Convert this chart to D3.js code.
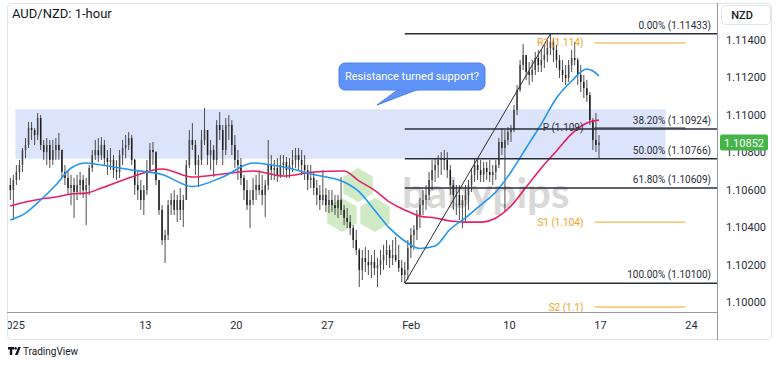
<!DOCTYPE html>
<html>
<head>
<meta charset="utf-8">
<script src="https://cdn.jsdelivr.net/npm/d3@7"></script>
<style>
  body { margin: 0; background: #fff; }
  svg text { font-family: Roboto, "Liberation Sans", sans-serif; }
</style>
</head>
<body>
<div id="chart"></div>
<script>
// AUD/NZD candles, 4-hour bars.
// values are points above 1.10000 (1 point = 0.00001)
const base = 1.1;
const firstBar = -2.5;      // trading days from Mon 6 Jan
const barsPerDay = 6;
const open0 = 625;
const high = [663,679,732,759,823,876,962,962,930,1010,999,866,876,866,866,876,903,815,732,705,
  679,663,679,695,679,663,732,812,866,876,882,866,812,823,785,759,812,866,892,908,
  892,765,705,652,625,759,850,855,805,652,518,385,545,582,598,572,609,572,759,919,
  956,866,785,919,1037,919,866,839,972,1015,946,983,999,972,892,812,769,679,652,598,
  663,679,705,679,652,866,785,759,769,785,785,775,769,812,823,823,812,785,732,732,
  695,652,625,705,609,598,598,572,572,668,518,502,465,411,385,288,278,294,278,251,
  278,235,278,305,331,305,331,347,305,224,214,331,395,411,492,556,598,625,695,759,
  769,785,801,812,801,732,652,625,625,572,625,652,716,769,769,759,748,748,759,732,
  759,876,930,919,935,946,1053,1159,1293,1379,1320,1282,1293,1336,1347,1347,1373,1400,1433,1411,
  1373,1320,1293,1266,1293,1347,1389,1304,1266,1213,1186,1122,983,1010,892];
const low = [545,438,625,652,695,769,823,866,839,866,812,759,732,716,732,759,759,663,625,572,
  518,449,545,572,556,411,572,695,759,748,759,732,679,705,663,652,663,732,769,812,
  732,572,545,492,465,572,705,732,625,465,305,208,331,465,465,427,438,401,545,716,
  812,679,614,732,839,732,705,668,732,866,732,785,866,785,716,652,625,545,492,395,
  518,545,572,518,454,598,652,652,641,663,679,663,663,695,716,705,679,652,598,609,
  572,518,492,518,481,475,481,465,449,465,411,395,358,288,251,80,117,160,144,128,
  144,80,144,171,197,182,197,214,160,107,101,117,235,278,331,395,465,492,545,598,
  641,663,679,705,663,572,492,465,438,395,427,492,588,641,652,641,641,652,641,625,
  652,716,785,481,839,855,908,999,1122,1240,1186,1159,1176,1213,1229,1229,1250,1282,1320,1282,
  1250,1197,1176,1159,1176,1229,1266,1159,1122,1090,1069,946,812,801,769];
const close = [598,652,695,732,812,839,930,919,892,983,839,801,839,759,812,839,812,695,663,609,
  625,588,625,652,598,625,716,785,812,785,839,769,748,759,705,695,785,823,839,876,
  759,625,598,545,598,705,812,801,652,492,331,358,518,545,492,545,492,545,732,866,
  839,732,759,866,919,785,812,759,946,919,812,946,946,839,759,732,663,598,518,545,
  598,625,598,572,625,732,705,716,679,732,748,705,732,759,785,759,732,705,652,663,
  609,572,545,572,518,545,518,502,545,492,449,427,395,331,278,171,235,214,197,214,
  182,197,224,251,278,235,251,224,182,144,171,288,358,385,465,518,545,572,652,705,
  732,759,769,759,705,625,572,572,518,545,572,625,679,732,705,679,716,695,679,695,
  732,855,823,866,908,919,1026,1133,1266,1320,1229,1213,1240,1304,1266,1293,1320,1357,1389,1347,
  1293,1240,1213,1197,1266,1304,1293,1213,1176,1143,1106,972,866,839,852];

// moving averages read at these bar numbers
const maBars = [0,5,10,15,20,25,30,40,50,60,70,80,90,100,110,115,120,125,130,135,140,145,150,155,160,165,170,175,180,185,190,192,194];
const emaBlue = [438,475,545,625,716,743,732,705,681,617,668,743,721,681,641,588,492,395,326,286,299,390,449,518,588,695,823,951,1090,1181,1245,1234,1208];
const emaPink = [513,534,550,561,577,582,609,668,711,668,684,700,673,695,700,646,598,534,492,459,449,433,427,427,449,513,614,716,807,898,956,967,972];

const timeLabels = ['2025','13','20','27','Feb','10','17','24'];
const timeAt = [-2.3, 5, 10, 15, 19.6, 25, 30, 35];
const priceTicks = [1.100,1.102,1.104,1.106,1.108,1.110,1.112,1.114];

const fibRatio = ['0.00%','38.20%','50.00%','61.80%','100.00%'];
const fibPrice = [1.11433,1.10924,1.10766,1.10609,1.10100];
const fibFrom = 130, fibTo = 178;   // swing low bar, swing high bar

const pivotName = ['R1','P','S1','S2'];
const pivotText = ['1.114','1.109','1.104','1.1'];
const pivotPrice = [1.11384,1.10930,1.10427,1.09973];
const pivotSpan = [29.67, 34.67];

const zoneSpan = [-2.14, 33.57];
const zonePrice = [1.11030, 1.10766];
const lastPrice = 1.10852;

function makeChart() {
  const W = 780, H = 365;
  const svg = d3.select('#chart').append('svg').attr('width', W).attr('height', H);

  const x = d3.scaleLinear().domain([-2.6, 36.4]).range([7, 717]);
  const y = d3.scaleLinear().domain([1.100, 1.114]).range([302, 40]);
  const px = v => base + v / 1e5;

  const bars = close.map((c, i) => ({
    t: firstBar + (i + 0.5) / barsPerDay,
    o: px(i ? close[i - 1] : open0),
    h: px(high[i]), l: px(low[i]), c: px(c)
  }));

  // frame + axes lines
  svg.append('rect').attr('x', 7.5).attr('y', 3.5).attr('width', 764).attr('height', 336)
    .attr('rx', 4).attr('fill', 'none').attr('stroke', '#e0e3eb');

  svg.append('defs').append('clipPath').attr('id', 'plot')
    .append('rect').attr('x', 8).attr('y', 4).attr('width', 709).attr('height', 308);
  svg.append('defs').append('clipPath').attr('id', 'timeclip')
    .append('rect').attr('x', 8).attr('y', 312).attr('width', 709).attr('height', 30);

  const plot = svg.append('g').attr('clip-path', 'url(#plot)');

  // support / resistance zone
  plot.append('rect')
    .attr('x', x(zoneSpan[0])).attr('width', x(zoneSpan[1]) - x(zoneSpan[0]))
    .attr('y', y(zonePrice[0])).attr('height', y(zonePrice[1]) - y(zonePrice[0]))
    .attr('fill', '#dce4fb');

  // babypips watermark
  const hex = d3.range(6).map(i => {
    const a = Math.PI / 3 * i - Math.PI / 2;
    return [17 * Math.cos(a), 17 * Math.sin(a)];
  });
  const wm = plot.append('g').attr('opacity', 0.8);
  [[358, 185], [342, 215], [375, 215]].forEach(c => {
    wm.append('polygon')
      .attr('points', hex.map(p => [c[0] + p[0], c[1] + p[1]].join(',')).join(' '))
      .attr('fill', '#c5e6b8');
  });
  wm.append('text').attr('x', 402).attr('y', 208)
    .style('font-family', 'Lato, "Noto Sans", sans-serif')
    .style('font-weight', 700).style('font-size', '42px')
    .attr('fill', '#cfcfcf').text('babypips');

  // candles
  const cw = 18.2 / barsPerDay;
  const cg = plot.append('g');
  cg.selectAll('line').data(bars).enter().append('line')
    .attr('x1', d => x(d.t)).attr('x2', d => x(d.t))
    .attr('y1', d => y(d.h)).attr('y2', d => y(d.l))
    .attr('stroke', '#3a3a3a').attr('stroke-width', 0.9);
  cg.selectAll('rect').data(bars).enter().append('rect')
    .attr('x', d => x(d.t) - cw * 0.25).attr('width', cw * 0.5)
    .attr('y', d => y(Math.max(d.o, d.c)))
    .attr('height', d => Math.max(1, Math.abs(y(d.o) - y(d.c))))
    .attr('fill', d => d.c >= d.o ? '#444' : '#1e1e1e');

  // moving averages
  const maLine = vals => d3.line()
    .x((d, i) => x(firstBar + (maBars[i] + 0.5) / barsPerDay))
    .y(d => y(px(d)))
    .curve(d3.curveMonotoneX)(vals);
  plot.append('path').attr('d', maLine(emaPink)).attr('fill', 'none')
    .attr('stroke', '#e91e63').attr('stroke-width', 1.6);
  plot.append('path').attr('d', maLine(emaBlue)).attr('fill', 'none')
    .attr('stroke', '#2196f3').attr('stroke-width', 1.6);

  // fibonacci retracement
  const fx0 = x(bars[fibFrom].t), fx1 = x(bars[fibTo].t);
  plot.append('line').attr('x1', fx0).attr('y1', y(bars[fibFrom].l))
    .attr('x2', fx1).attr('y2', y(bars[fibTo].h))
    .attr('stroke', '#2a2e39').attr('stroke-width', 1);
  fibPrice.forEach((p, i) => {
    plot.append('line').attr('x1', fx0).attr('x2', 717)
      .attr('y1', y(p)).attr('y2', y(p))
      .attr('stroke', '#2a2e39').attr('stroke-width', 1.5);
    plot.append('text').attr('x', 711).attr('y', y(p) - 5)
      .attr('text-anchor', 'end').style('font-size', '10px').attr('fill', '#2a2e39')
      .text(`${fibRatio[i]} (${p.toFixed(5)})`);
  });

  // weekly pivots
  pivotPrice.forEach((p, i) => {
    const col = pivotName[i] === 'P' ? '#2a2e39' : '#f5a025';
    plot.append('line').attr('x1', x(pivotSpan[0])).attr('x2', x(pivotSpan[1]))
      .attr('y1', y(p)).attr('y2', y(p)).attr('stroke', col).attr('stroke-width', 1);
    plot.append('text').attr('x', x(pivotSpan[0]) - 11).attr('y', y(p) + 3.5)
      .attr('text-anchor', 'end').style('font-size', '10px').attr('fill', col)
      .text(`${pivotName[i]} (${pivotText[i]})`);
  });

  // callout
  const note = svg.append('g');
  note.append('path')
    .attr('d', 'M399,89 L377,105 L419,89 Z')
    .attr('fill', '#6093f7').attr('stroke', '#4a7ef0');
  note.append('rect').attr('x', 339).attr('y', 63).attr('width', 146).attr('height', 27)
    .attr('rx', 6).attr('fill', '#6093f7').attr('stroke', '#4a7ef0');
  note.append('path').attr('d', 'M400,89.5 L418,89.5').attr('stroke', '#6093f7').attr('stroke-width', 2);
  note.append('text').attr('x', 412).attr('y', 80).attr('text-anchor', 'middle')
    .style('font-size', '11px').attr('fill', '#fff').text('Resistance turned support?');

  // axes
  svg.append('line').attr('x1', 7).attr('x2', 717).attr('y1', 312.5).attr('y2', 312.5)
    .attr('stroke', '#9598a1');
  svg.append('line').attr('x1', 717.5).attr('x2', 717.5).attr('y1', 3).attr('y2', 340)
    .attr('stroke', '#9598a1');

  svg.append('g').attr('clip-path', 'url(#timeclip)')
    .selectAll('text').data(timeLabels).enter().append('text')
    .attr('x', (d, i) => x(timeAt[i])).attr('y', 329)
    .attr('text-anchor', 'middle').style('font-size', '11px').attr('fill', '#2a2e39')
    .text(d => d);

  svg.selectAll('.ptick').data(priceTicks).enter().append('text')
    .attr('class', 'ptick').attr('x', 726).attr('y', d => y(d) + 4)
    .style('font-size', '11px').attr('fill', '#2a2e39')
    .text(d => d.toFixed(5));

  // last price label
  svg.append('rect').attr('x', 720).attr('y', y(lastPrice) - 8).attr('width', 48).attr('height', 16)
    .attr('rx', 2).attr('fill', '#46b549');
  svg.append('text').attr('x', 744).attr('y', y(lastPrice) + 4).attr('text-anchor', 'middle')
    .style('font-size', '11px').attr('fill', '#fff').text(lastPrice.toFixed(5));

  // currency box
  svg.append('rect').attr('x', 721.5).attr('y', 5.5).attr('width', 49).attr('height', 19)
    .attr('rx', 4).attr('fill', '#fff').attr('stroke', '#e0e3eb');
  svg.append('text').attr('x', 742).attr('y', 19).attr('text-anchor', 'middle')
    .style('font-size', '11px').style('font-weight', 500).attr('fill', '#131722').text('NZD');

  // title
  svg.append('text').attr('x', 12).attr('y', 18)
    .style('font-size', '13px').attr('fill', '#131722').text('AUD/NZD: 1-hour');

  // footer logo
  const logo = svg.append('g').attr('fill', '#131722');
  logo.append('path').attr('d', 'M8,347 h6 v2.5 h-1.8 v5.5 h-2.4 v-5.5 h-1.8 Z');
  logo.append('circle').attr('cx', 15.6).attr('cy', 348.4).attr('r', 1.3);
  logo.append('path').attr('d', 'M18.2,347 h2.6 l-3.2,8 h-2.6 Z');
  svg.append('text').attr('x', 23).attr('y', 355)
    .style('font-size', '10px').attr('fill', '#131722').text('TradingView');
}

window.onload = function () {
  makeChart();
};
</script>
</body>
</html>
